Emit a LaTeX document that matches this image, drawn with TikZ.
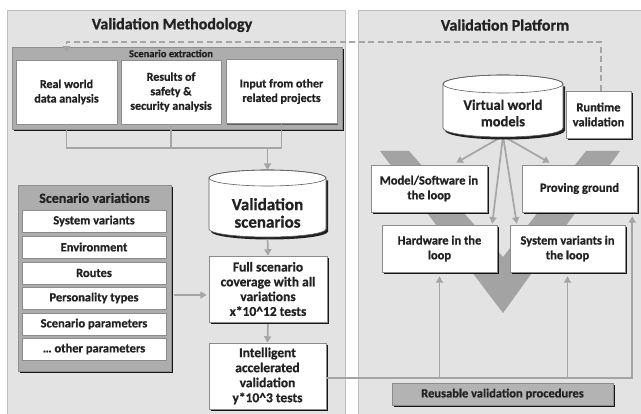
\documentclass[tikz,border=0pt]{standalone}
\usepackage{fontspec}
\setmainfont{Carlito}[BoldFeatures={FakeBold=0.8}]
\usetikzlibrary{shadows,arrows.meta}

\definecolor{panelbg}{HTML}{E3E3E3}
\definecolor{panelline}{HTML}{BFBFBF}
\definecolor{groupbg}{HTML}{ADADAD}
\definecolor{groupline}{HTML}{8F8F8F}
\definecolor{cardline}{HTML}{8C8C8C}
\definecolor{conn}{HTML}{A5A5A5}
\definecolor{vcol}{HTML}{A3A3A3}
\definecolor{drumline}{HTML}{5E5E5E}
\definecolor{procbg}{HTML}{B3B3B3}
\definecolor{ink}{HTML}{222222}

\newcommand\setfs[2]{\fontsize{#1}{#2}\selectfont}
% database drum: centre x, half width, top-ellipse y, bottom-ellipse y, ellipse half height
\newcommand\drum[5]{%
  \fill[black,opacity=.85,shift={(2pt,-2.5pt)}] ({#1-#2},#3) -- ({#1-#2},#4)
    arc[start angle=180,end angle=360,x radius=#2pt,y radius=#5pt] -- ({#1+#2},#3) -- cycle;
  \filldraw[fill=white,draw=drumline,line width=.6pt] ({#1-#2},#3) -- ({#1-#2},#4)
    arc[start angle=180,end angle=360,x radius=#2pt,y radius=#5pt] -- ({#1+#2},#3)
    arc[start angle=0,end angle=180,x radius=#2pt,y radius=#5pt] -- cycle;
  \draw[drumline,line width=.6pt] (#1,#3) ellipse[x radius=#2pt,y radius=#5pt];
}

\begin{document}
\begin{tikzpicture}[x=1pt,y=-1pt,
  panel/.style={fill=panelbg,draw=panelline,line width=.8pt},
  heading/.style={font=\bfseries\setfs{16}{19},text=ink},
  softshadow/.style={drop shadow={shadow xshift=1.3pt,shadow yshift=-1.5pt,opacity=.45,fill=black}},
  hardshadow/.style={drop shadow={shadow xshift=2pt,shadow yshift=-2.5pt,opacity=.9,fill=black}},
  card/.style={fill=white,draw=cardline,line width=.5pt,text=ink,align=center,inner sep=1pt,
    font=\bfseries\setfs{12.5}{14.8}},
  drumtext/.style={text=ink,align=center,inner sep=1pt},
  group/.style={fill=groupbg,draw=groupline,line width=.5pt,hardshadow},
  wire/.style={draw=conn,line width=1.7pt},
  flow/.style={wire,-{Triangle[length=6.5pt,width=7pt]}},
  dashflow/.style={flow,dash pattern=on 6pt off 3.5pt},
]
\useasboundingbox (0,0) rectangle (641,414);

% two panels
\path[panel] (7,10) rectangle (345,430);
\path[panel] (358,10) rectangle (650,430);
\node[heading] (lt) at (172,25) {Validation Methodology};
\node[heading] (rtit) at (505,25) {Validation Platform};

% V-model chevron behind the platform boxes
\fill[vcol] (380,151) -- (409,151) -- (503,257) -- (586,151) -- (620,151) -- (503,313) -- cycle;

% scenario extraction
\node[group,minimum width=330pt,minimum height=82pt] (sx) at (177,88) {};
\node[font=\bfseries\setfs{10.5}{12},text=ink] (sxl) at (171,53.5) {Scenario extraction};
\node[card,softshadow,font=\bfseries\setfs{12}{14.5},minimum width=101pt,minimum height=64pt] (rw) at (66.5,92) {Real world\\data analysis};
\node[card,softshadow,font=\bfseries\setfs{12}{14.5},minimum width=100pt,minimum height=64pt] (sa) at (171,92) {Results of\\safety \&\\security analysis};
\node[card,softshadow,font=\bfseries\setfs{12}{14.5},minimum width=111pt,minimum height=64pt] (ip) at (281.5,91.5) {Input from other\\related projects};

% scenario variations
\node[group,minimum width=153pt,minimum height=186pt] (svar) at (94.5,278) {};
\node[font=\bfseries\setfs{14}{16},text=ink] (svt) at (94.5,198) {Scenario variations};
\node[card,softshadow,minimum width=144pt,minimum height=22pt] (v1) at (94,221) {System variants};
\node[card,softshadow,minimum width=144pt,minimum height=22pt] (v2) at (94,247) {Environment};
\node[card,softshadow,minimum width=144pt,minimum height=22pt] (v3) at (94,273) {Routes};
\node[card,softshadow,minimum width=144pt,minimum height=22pt] (v4) at (94,298) {Personality types};
\node[card,softshadow,minimum width=144pt,minimum height=22pt] (v5) at (94,324) {Scenario parameters};
\node[card,softshadow,minimum width=144pt,minimum height=22pt] (v6) at (94,349) {… other parameters};

% validation scenarios store and test stages
\drum{267.5}{58.5}{178}{229}{8}
\node[drumtext,font=\bfseries\setfs{17}{17.5}] (vs) at (267.5,213) {Validation\\scenarios};
\coordinate (vstop) at (267.5,170);
\coordinate (vsbot) at (267.5,237);
\node[card,hardshadow,minimum width=118pt,minimum height=66pt,font=\bfseries\setfs{13.5}{14.8}] (fs) at (268,289) {Full scenario\\coverage with all\\variations\\x*10\textasciicircum12 tests};
\node[card,hardshadow,minimum width=117pt,minimum height=66pt,font=\bfseries\setfs{13.5}{15}] (ia) at (267.5,376) {Intelligent\\accelerated\\validation\\y*10\textasciicircum3 tests};

% platform boxes
\node[card,hardshadow,minimum width=65pt,minimum height=47pt] (rt) at (598.5,114.5) {Runtime\\validation};
\node[card,hardshadow,minimum width=116pt,minimum height=47pt] (ms) at (429,188.5) {Model/Software in\\the loop};
\node[card,hardshadow,minimum width=115pt,minimum height=47pt] (pg) at (579.5,188.5) {Proving ground};
\node[card,hardshadow,minimum width=115pt,minimum height=47pt] (hw) at (439.5,248.5) {Hardware in the\\loop};
\node[card,hardshadow,minimum width=115pt,minimum height=47pt] (sv) at (567.5,248.5) {System variants in\\the loop};
\node[card,hardshadow,fill=procbg,minimum width=221pt,minimum height=22pt] (rp) at (502.5,394) {Reusable validation procedures};

% virtual world models feed the four test set-ups
\coordinate (vwbot) at (503,136);
\draw[flow] (vwbot) -- ([xshift=-31pt,yshift=2pt]ms.north east);
\draw[flow] (vwbot) -- ([xshift=-5pt,yshift=1pt]hw.north east);
\draw[flow] (vwbot) -- ([xshift=7pt,yshift=1pt]sv.north west);
\draw[flow] (vwbot) -- ([xshift=28pt,yshift=2pt]pg.north west);
\drum{503}{60}{84}{128}{9}
\node[drumtext,font=\bfseries\setfs{14.5}{16.5}] (vw) at (503,113) {Virtual world\\models};

% extraction results merge into the scenario store
\coordinate (merge) at (0,148);
\draw[wire] (rw.south) -- (rw.south |- merge) -- (ip.south |- merge) -- (ip.south);
\draw[wire] (sa.south) -- (sa.south |- merge);
\draw[flow] (vstop |- merge) -- (vstop);
\draw[flow,shorten <=2pt] (vsbot) -- (fs.north);
\draw[flow,shorten <=2pt] (fs.south) -- (ia.north);
\coordinate (varlink) at ([yshift=-6pt]fs.west);
\draw[flow,shorten <=3pt,shorten >=2pt] (svar.east |- varlink) -- (varlink);

% accelerated validation drives the platform
\coordinate (bus) at ([yshift=-2pt]ia.east);
\draw[flow] (bus) -| ([xshift=-5pt,yshift=-4pt]pg.south east);
\draw[flow] (hw.south |- bus) -- ([yshift=-4pt]hw.south);
\draw[flow] (sv.south |- bus) -- ([yshift=-4pt]sv.south);

% runtime feedback into scenario extraction
\coordinate (dtop) at (66.5,42);
\coordinate (dend) at (rw.north |- sx.north);
\draw[dashflow] ([xshift=2.5pt]rt.north) |- (dtop) -- ([yshift=-6pt]dend);
\end{tikzpicture}
\end{document}
